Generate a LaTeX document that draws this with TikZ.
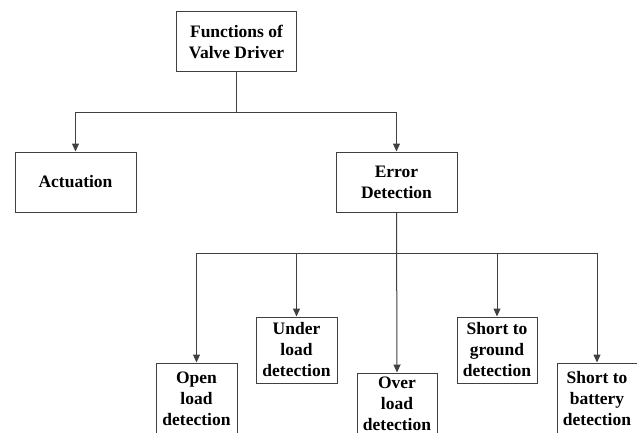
\documentclass[tikz,border=0pt]{standalone}
\usepackage{fontspec}
\setmainfont{Liberation Serif}
\usepackage{tikz}
\usetikzlibrary{arrows.meta,calc}

\begin{document}
\begin{tikzpicture}[x=1pt,y=-1pt,
	box/.style={draw=black!75, line width=1pt, fill=white, align=center, inner sep=0pt,
		font=\fontsize{17.5}{21}\selectfont\bfseries},
	arr/.style={draw=black!75, line width=1pt, -{Triangle[length=8pt,width=7pt]}},
	lin/.style={draw=black!75, line width=1pt}]
	\useasboundingbox (0,0) rectangle (637,432);
	\clip (0,0) rectangle (637,432);
	\node[box, minimum width=120pt, minimum height=60pt] (fun) at (236.5,41.5) {Functions of\\Valve Driver};
	\node[box, minimum width=121pt, minimum height=60pt] (act) at (75.5,182) {Actuation};
	\node[box, minimum width=121pt, minimum height=60pt] (err) at (396.5,182) {Error\\Detection};
	\node[box, minimum width=81pt, minimum height=72pt] (open) at (196.5,399) {Open\\load\\detection};
	\node[box, minimum width=81pt, minimum height=66pt] (under) at (296.5,350) {Under\\load\\detection};
	\node[box, minimum width=80pt, minimum height=62pt] (over) at (397,404) {Over\\load\\detection};
	\node[box, minimum width=80pt, minimum height=66pt] (gnd) at (497,350) {Short to\\ground\\detection};
	\node[box, minimum width=80pt, minimum height=72pt] (bat) at (597,399) {Short to\\battery\\detection};
	\coordinate (bus) at (236.5,112);%first level
	\coordinate (errbus) at (396.5,253);%second level
	\draw[lin] (fun.south) -- (bus);
	\draw[arr] (bus) -| (act.north);
	\draw[arr] (bus) -| (err.north);
	\draw[arr] (err.south) -- (over.north);
	\draw[arr] (errbus) -| (open.north);
	\draw[arr] (errbus) -| (under.north);
	\draw[arr] (errbus) -| (gnd.north);
	\draw[arr] (errbus) -| (bat.north);
\end{tikzpicture}
\end{document}
